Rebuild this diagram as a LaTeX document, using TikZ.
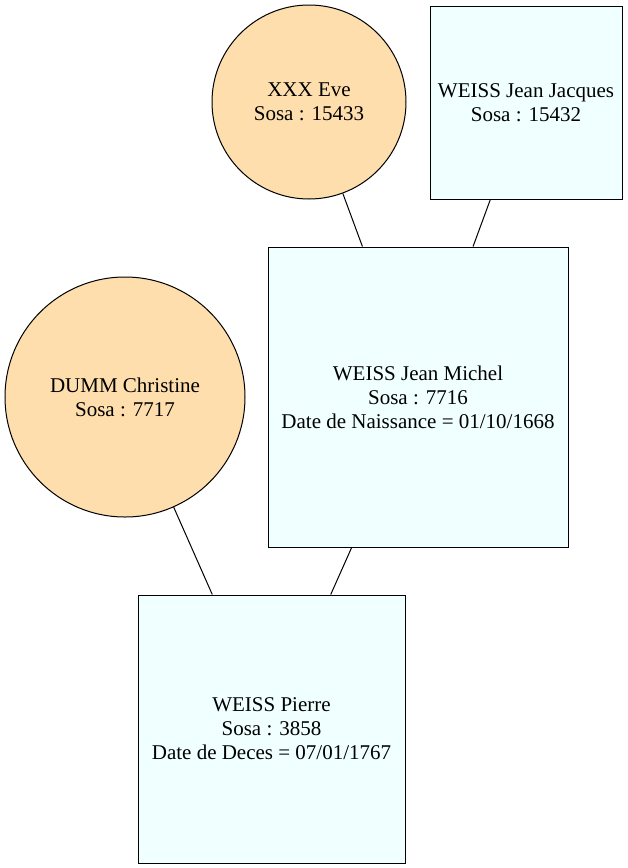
\documentclass[tikz,border=0pt]{standalone}
\usepackage{fontspec}
\setmainfont{Liberation Serif}
\begin{document}
\begin{tikzpicture}[x=1pt,y=-1pt,
  person/.style={font=\fontsize{21}{24}\selectfont, align=center, draw=black, line width=1pt, inner sep=0pt},
  woman/.style={person, circle, fill=wfill},
  man/.style={person, rectangle, fill=mfill},
  link/.style={draw=black, line width=1pt}]
\definecolor{wfill}{HTML}{FDDEAC}
\definecolor{mfill}{HTML}{F0FFFF}
\useasboundingbox (0,0) rectangle (628,868);
\node[woman, minimum size=194pt] (eve) at (309,102) {XXX Eve\\Sosa : 15433};
\node[man, minimum width=192pt, minimum height=193pt] (jj) at (526,102.5) {WEISS Jean Jacques\\Sosa : 15432};
\node[man, minimum width=300pt, minimum height=300pt] (jm) at (418,397) {WEISS Jean Michel\\Sosa : 7716\\Date de Naissance = 01/10/1668};
\node[woman, minimum size=240pt] (dc) at (125,397) {DUMM Christine\\Sosa : 7717};
\node[man, minimum width=267pt, minimum height=268pt] (wp) at (271.5,729) {WEISS Pierre\\Sosa : 3858\\Date de Deces = 07/01/1767};
\draw[link] (eve) -- (jm);
\draw[link] (jj) -- (jm);
\draw[link] (dc) -- (wp);
\draw[link] (jm) -- (wp);
\end{tikzpicture}
\end{document}
